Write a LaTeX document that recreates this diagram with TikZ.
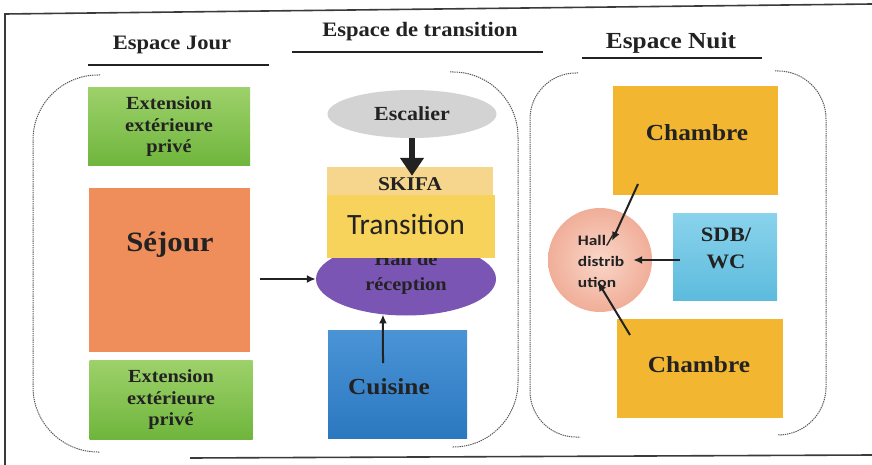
\documentclass[tikz,border=0pt]{standalone}
\usepackage{fontspec}
\setmainfont{Liberation Serif}
\newfontfamily\tnr[FakeStretch=1.1]{Liberation Serif}
\newfontfamily\carl{Carlito}
\newfontfamily\carlw[FakeStretch=1.2]{Carlito}
\usetikzlibrary{arrows.meta,shapes.geometric}
\definecolor{txtc}{HTML}{222222}
\definecolor{framec}{HTML}{3A3A3A}
\definecolor{brkc}{HTML}{555555}
\definecolor{greenA}{HTML}{9DD16A}
\definecolor{greenB}{HTML}{6FB53C}
\definecolor{orangeS}{HTML}{EF8E5A}
\definecolor{greyE}{HTML}{D3D3D3}
\definecolor{skifaC}{HTML}{F6D68C}
\definecolor{transC}{HTML}{F7D35B}
\definecolor{purpleH}{HTML}{7A55B3}
\definecolor{blueA}{HTML}{4A94D6}
\definecolor{blueB}{HTML}{2C78C0}
\definecolor{chamC}{HTML}{F2B631}
\definecolor{sdbA}{HTML}{8AD3EC}
\definecolor{sdbB}{HTML}{5DBBDD}
\definecolor{peachA}{HTML}{FAD6C9}
\definecolor{peachB}{HTML}{F0AE98}
\tikzset{
  frame/.style={draw=framec, line width=1.6pt},
  uline/.style={draw=txtc, line width=2pt},
  brk/.style={draw=brkc, line width=1pt, dash pattern=on 1.3pt off 0.9pt},
  hdr/.style={font=\tnr\bfseries\fontsize{20.5}{24}\selectfont, text=txtc, inner sep=0},
  btxt/.style n args={2}{font=\tnr\bfseries\fontsize{#1}{#2}\selectfont, text=txtc, align=center, inner sep=0},
  rbox/.style={rectangle, draw=none, inner sep=0},
  greenbox/.style={rbox, top color=greenA, bottom color=greenB},
  arr/.style={draw=txtc, line width=2pt, -{Latex[length=9pt,width=8pt]}},
  bigarr/.style={draw=txtc, line width=6pt, -{Triangle[length=18pt,width=23pt]}},
}
\begin{document}
\begin{tikzpicture}[x=1pt,y=-1pt]
\useasboundingbox (0,0) rectangle (872,465);
\clip (0,0) rectangle (872,465);
\fill[white] (0,0) rectangle (872,465);
% outer frame
\draw[frame] (872,4) -- (5,14) -- (5,465);
\draw[frame] (190,458) -- (872,455);
% headers
\node[hdr, anchor=base] (hj) at (172,50) {Espace Jour};
\draw[uline] (88,65) -- (269,65);
\node[hdr, anchor=base] (ht) at (420,37) {Espace de transition};
\draw[uline, line width=2.6pt] (292,52) -- (543,52);
\node[hdr, anchor=base, font=\tnr\bfseries\fontsize{23}{27}\selectfont] (hn) at (671,49) {Espace Nuit};
\draw[uline] (582,58) -- (762,58);
% dashed brackets
\draw[brk, rounded corners=65pt] (100,75) -- (33,75) -- (33,452) -- (100,452);
\draw[brk, rounded corners=65pt] (450,72) -- (518,72) -- (518,447) -- (452,447);
\draw[brk, rounded corners=46pt] (578,73) -- (530,73) -- (530,437) -- (580,437);
\draw[brk, rounded corners=48pt] (775,71) -- (826,71) -- (826,435) -- (778,435);
% Espace Jour
\node[greenbox, minimum width=162pt, minimum height=78pt] (ext1) at (169,127) {};
\node[btxt={18.5}{21.5}] (ext1t) at (169,127) {Extension\\extérieure\\privé};
\node[rbox, fill=orangeS, minimum width=161pt, minimum height=164pt] (sejour) at (169.5,270) {};
\node[btxt={28}{32}] (sejourt) at (170,245) {Séjour};
\node[greenbox, minimum width=163pt, minimum height=79pt] (ext2) at (171,400) {};
\node[btxt={18.5}{21.5}] (ext2t) at (171,400) {Extension\\extérieure\\privé};
% Espace de transition
\node[ellipse, fill=greyE, minimum width=169pt, minimum height=48pt, inner sep=0] (escalier) at (412,114) {};
\node[btxt={20}{24}] (escaliert) at (412,114) {Escalier};
\node[ellipse, fill=purpleH, minimum width=180pt, minimum height=73pt, inner sep=0] (hallr) at (406,279) {};
\node[btxt={18.5}{25}] (hallrt) at (406,274) {Hall de\\réception};
\node[rbox, fill=skifaC, minimum width=166pt, minimum height=30pt] (skifa) at (410,182) {};
\node[btxt={19.5}{23}] (skifat) at (410,184) {SKIFA};
\node[rbox, fill=transC, minimum width=168pt, minimum height=63pt] (trans) at (411,226.5) {};
\node[font=\carl\fontsize{29.5}{33}\selectfont, text=txtc, inner sep=0] (transt) at (406,224) {Transition};
\node[rbox, top color=blueA, bottom color=blueB, minimum width=139pt, minimum height=108pt] (cuisine) at (397.5,384) {};
\node[btxt={23}{27}] (cuisinet) at (389,387) {Cuisine};
% Espace Nuit
\node[rbox, fill=chamC, minimum width=165pt, minimum height=109pt] (chambre1) at (695.5,140.5) {};
\node[btxt={23}{27}] (chambre1t) at (697,133) {Chambre};
\node[rbox, fill=chamC, minimum width=166pt, minimum height=99pt] (chambre2) at (700,368.5) {};
\node[btxt={23}{27}] (chambre2t) at (699,365) {Chambre};
\node[rbox, top color=sdbA, bottom color=sdbB, minimum width=104pt, minimum height=87pt] (sdb) at (725,256.5) {};
\node[btxt={20.5}{27}] (sdbt) at (726,248) {SDB/\\WC};
\node[circle, inner color=peachA, outer color=peachB, minimum size=104pt, inner sep=0] (hallc) at (600,260) {};
\node[font=\carlw\bfseries\fontsize{14.5}{21}\selectfont, text=txtc, align=left, inner sep=0] (hallct) at (601,261) {Hall/\\distrib\\ution};
% connectors
\draw[bigarr] (escalier.south) -- ([yshift=-9pt]escalier.south |- skifa.north);
\draw[arr, shorten <=10pt] (sejour.east |- hallr.west) -- (hallr.west);
\coordinate (cuisstart) at (383,363);
\draw[arr] (cuisstart) -- (hallr.-123);
\coordinate (c1s) at (638,184);
\coordinate (c1e) at (612,241);
\draw[arr] (c1s) -- (c1e);
\draw[arr, shorten <=-7pt, shorten >=-19pt] (sdb.west |- hallc.center) -- (hallc.east);
\coordinate (c2s) at (630,335);
\coordinate (c2e) at (598,282);
\draw[arr] (c2s) -- (c2e);
\end{tikzpicture}
\end{document}
